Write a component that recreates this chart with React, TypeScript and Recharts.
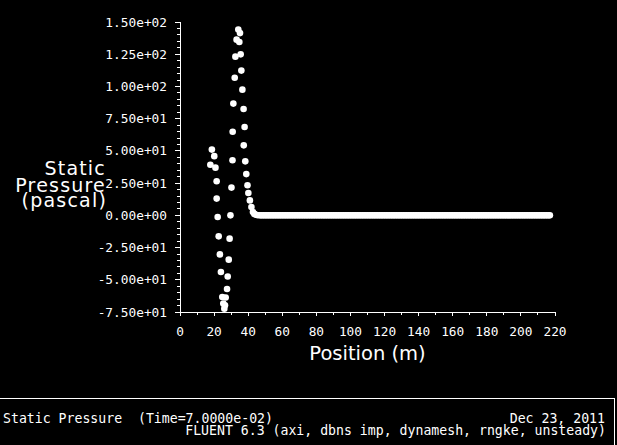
import { ScatterChart, Scatter, XAxis, YAxis } from 'recharts';

// pressure wave near the piston (position m, static pressure Pa)
const wavePosition = [
  17.8, 18.7, 20.1, 20.8, 21.5, 21.5, 22.1, 22.7, 23.4, 24.0, 24.8, 25.4, 26.0, 26.4,
  26.8, 27.6, 28.0, 28.6, 29.1, 29.6, 30.2, 30.8, 30.9, 31.3, 32.1, 32.5, 33.2, 34.2,
  35.2, 34.8, 35.6, 36.0, 36.6, 37.3, 37.9, 37.4, 38.3, 38.9, 39.6, 40.1, 41.0, 41.9,
  42.8, 43.6, 44.6, 45.7,
];
const wavePressure = [
  39.3, 51.0, 45.9, 37.0, 26.4, 13.0, -1.3, -16.3, -30.3, -44.0, -63.4, -68.5, -72.4, -69.8,
  -63.8, -57.2, -47.4, -34.4, -18.1, 0.0, 21.5, 42.7, 64.8, 86.7, 106.8, 123.1, 136.3, 144.1,
  141.4, 134.5, 124.9, 112.3, 97.5, 82.5, 68.5, 54.3, 41.9, 32.0, 23.3, 17.3, 11.6, 6.4,
  2.6, 1.1, 0.4, 0.1,
];
// undisturbed region, pressure 0
const restPosition = [
  47, 48, 49, 50, 51, 52, 53, 54, 55, 56, 57, 58, 59, 60, 61, 62, 63, 64, 65, 66, 67, 68, 69,
  70, 71, 72, 73, 74, 75, 76, 77, 78, 79, 80, 81, 82, 83, 84, 85, 86, 87, 88, 89, 90, 91, 92,
  93, 94, 95, 96, 97, 98, 99, 100, 101, 102, 103, 104, 105, 106, 107, 108, 109, 110, 111, 112,
  113, 114, 115, 116, 117, 118, 119, 120, 121, 122, 123, 124, 125, 126, 127, 128, 129, 130,
  131, 132, 133, 134, 135, 136, 137, 138, 139, 140, 141, 142, 143, 144, 145, 146, 147, 148,
  149, 150, 151, 152, 153, 154, 155, 156, 157, 158, 159, 160, 161, 162, 163, 164, 165, 166,
  167, 168, 169, 170, 171, 172, 173, 174, 175, 176, 177, 178, 179, 180, 181, 182, 183, 184,
  185, 186, 187, 188, 189, 190, 191, 192, 193, 194, 195, 196, 197, 198, 199, 200, 201, 202,
  203, 204, 205, 206, 207, 208, 209, 210, 211, 212, 213, 214, 215, 216, 217,
];
const restPressure = restPosition.map(() => 0);

const xTicks = [0, 10, 20, 30, 40, 50, 60, 70, 80, 90, 100, 110, 120, 130, 140, 150, 160, 170, 180, 190, 200, 210, 220];
const yTicks = [
  -75, -70, -65, -60, -55, -50, -45, -40, -35, -30, -25, -20, -15, -10, -5, 0, 5, 10, 15, 20, 25,
  30, 35, 40, 45, 50, 55, 60, 65, 70, 75, 80, 85, 90, 95, 100, 105, 110, 115, 120, 125, 130, 135,
  140, 145, 150,
];

const points = [
  ...wavePosition.map((x, i) => ({ x, y: wavePressure[i] })),
  ...restPosition.map((x, i) => ({ x, y: restPressure[i] })),
];

const MONO = '"DejaVu Sans Mono", monospace';
const SANS = '"DejaVu Sans", sans-serif';

// FLUENT style exponent: 1.50e+02
const fmtExp = (v: number) => {
  const [m, e] = v.toExponential(2).split('e');
  return `${m}e${e[0]}${e.slice(1).padStart(2, '0')}`;
};

const YTick = (props: any) => {
  const { x, y, payload } = props;
  const major = payload.value % 25 === 0;
  return (
    <g>
      <line x1={x} x2={x - (major ? 5 : 3)} y1={y} y2={y} stroke="#fff" shapeRendering="crispEdges" />
      {major && (
        <text x={x - 13} y={y + 4.5} textAnchor="end" fill="#fff" fontFamily={MONO} fontSize={12.8}>
          {fmtExp(payload.value)}
        </text>
      )}
    </g>
  );
};

const XTick = (props: any) => {
  const { x, y, payload } = props;
  const major = payload.value % 20 === 0;
  return (
    <g>
      <line x1={x} x2={x} y1={y} y2={y + (major ? 4 : 3)} stroke="#fff" shapeRendering="crispEdges" />
      {major && (
        <text x={x} y={y + 24} textAnchor="middle" fill="#fff" fontFamily={MONO} fontSize={12.8}>
          {payload.value}
        </text>
      )}
    </g>
  );
};

const WhiteDot = (props: any) => <circle cx={props.cx} cy={props.cy} r={3.3} fill="#fff" />;

export default function App() {
  return (
    <div style={{ position: 'absolute', left: 0, top: 0, width: 617, height: 445, background: '#000' }}>
      <ScatterChart width={617} height={445} margin={{ top: 22, right: 62, bottom: 0, left: 0 }}>
        <XAxis
          type="number"
          dataKey="x"
          domain={[0, 220]}
          ticks={xTicks}
          interval={0}
          height={133}
          tickSize={0}
          tickMargin={0}
          tickLine={false}
          tick={<XTick />}
          axisLine={{ stroke: '#fff', shapeRendering: 'crispEdges' }}
        />
        <YAxis
          type="number"
          dataKey="y"
          domain={[-75, 150]}
          ticks={yTicks}
          interval={0}
          width={180}
          tickSize={0}
          tickMargin={0}
          tickLine={false}
          tick={<YTick />}
          axisLine={{ stroke: '#fff', shapeRendering: 'crispEdges' }}
        />
        <Scatter data={points} fill="#fff" shape={<WhiteDot />} isAnimationActive={false} />
      </ScatterChart>
      <svg width={617} height={445} style={{ position: 'absolute', left: 0, top: 0, pointerEvents: 'none' }}>
        <g fill="#fff" fontFamily={SANS} fontSize={19} textAnchor="end" letterSpacing={1.2}>
          <text x={106} y={175}>Static</text>
          <text x={106} y={191.5}>Pressure</text>
          <text x={107} y={206.5}>(pascal)</text>
        </g>
        <text x={367.5} y={360} fill="#fff" fontFamily={SANS} fontSize={19.5} textAnchor="middle">
          Position (m)
        </text>
        <line x1={0} x2={614} y1={398} y2={398} stroke="#fff" shapeRendering="crispEdges" />
        <line x1={614} x2={614} y1={398} y2={445} stroke="#fff" shapeRendering="crispEdges" />
        <g fill="#fff" fontFamily={MONO} fontSize={13.2}>
          <text x={3} y={423} style={{ whiteSpace: 'pre' }}>Static Pressure  (Time=7.0000e-02)</text>
          <text x={605} y={423} textAnchor="end">Dec 23, 2011</text>
          <text x={606} y={435} textAnchor="end">FLUENT 6.3 (axi, dbns imp, dynamesh, rngke, unsteady)</text>
        </g>
      </svg>
    </div>
  );
}
